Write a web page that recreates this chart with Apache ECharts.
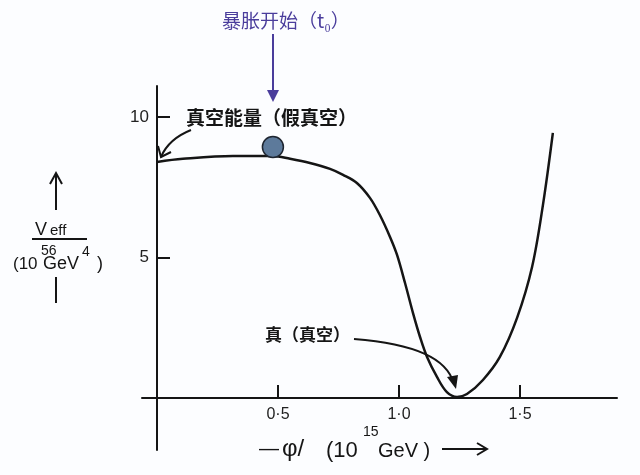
<!DOCTYPE html>
<html>
<head>
<meta charset="utf-8">
<script src="https://cdn.jsdelivr.net/npm/echarts@6/dist/echarts.min.js"></script>
<style>html,body{margin:0;padding:0;background:#fcfdff}#c{width:640px;height:475px}</style>
</head>
<body>
<div id="c"></div>
<script>
// Curve V_eff(phi)
const phi  = [0, 0.107, 0.314, 0.479, 0.550, 0.632, 0.715, 0.769, 0.826, 0.880, 0.921, 0.963, 0.992, 1.025, 1.058, 1.087, 1.116, 1.157, 1.198, 1.240, 1.281, 1.347, 1.417, 1.488, 1.550, 1.595, 1.636];
const veff = [8.40, 8.51, 8.61, 8.61, 8.51, 8.36, 8.15, 7.94, 7.65, 7.12, 6.51, 5.73, 5.09, 4.09, 3.02, 2.17, 1.46, 0.75, 0.21, 0.04, 0.14, 0.64, 1.46, 2.85, 4.66, 6.87, 9.43];
// Ball (start of inflation)
const ballPhi = [0.479];
const ballV = [8.93];
// Tick values
const xTicks = [0.5, 1.0, 1.5];
const yTicks = [5, 10];

const ink = '#151515';
const chart = echarts.init(document.getElementById('c'), null, {renderer: 'canvas'});
const curve = phi.map((p, i) => [p, veff[i]]);
const ball = ballPhi.map((p, i) => [p, ballV[i]]);
const latin = 'Liberation Sans';
const cjk = '"Noto Sans CJK SC"';

function txt(text, x, y, size, opts) {
  opts = opts || {};
  return {type: 'text', x: x, y: y, z: 10, style: {text: text, fontSize: size, fontFamily: opts.family || latin,
    fontWeight: opts.weight || 'normal', fill: opts.color || ink, align: opts.align || 'left', verticalAlign: 'middle'}};
}
function seg(x1, y1, x2, y2, color, w) {
  return {type: 'line', z: 10, shape: {x1, y1, x2, y2}, style: {stroke: color || ink, lineWidth: w || 2}};
}
const X_MIN = -0.062, X_MAX = 1.901, Y_MIN = -1.85, Y_MAX = 11.1;

chart.setOption({
  backgroundColor: '#fcfdff',
  animation: false,
  grid: {left: 142, right: 23, top: 86, bottom: 25},
  xAxis: [{
    type: 'value', min: X_MIN, max: X_MAX,
    axisLine: {onZero: true, lineStyle: {color: ink, width: 2}},
    axisTick: {show: true, inside: true, length: 13, customValues: xTicks, lineStyle: {color: ink, width: 2}},
    axisLabel: {show: false},
    splitLine: {show: false}
  }, {
    type: 'value', min: X_MIN, max: X_MAX, position: 'bottom', offset: -52,
    axisLine: {show: false}, axisTick: {show: false}, splitLine: {show: false},
    axisLabel: {customValues: xTicks, formatter: v => v.toFixed(1).replace('.', '·'), margin: 9,
      fontSize: 16, color: '#222', fontFamily: latin}
  }],
  yAxis: [{
    type: 'value', min: Y_MIN, max: Y_MAX,
    axisLine: {onZero: true, lineStyle: {color: ink, width: 2}},
    axisTick: {show: true, inside: true, length: 13, customValues: yTicks, lineStyle: {color: ink, width: 2}},
    axisLabel: {show: false},
    splitLine: {show: false}
  }, {
    type: 'value', min: Y_MIN, max: Y_MAX, position: 'left', offset: -15,
    axisLine: {show: false}, axisTick: {show: false}, splitLine: {show: false},
    axisLabel: {customValues: yTicks, formatter: v => String(v), margin: 8,
      fontSize: 17, color: '#222', fontFamily: latin}
  }],
  series: [
    {type: 'line', data: curve, smooth: 0.35, symbol: 'none', lineStyle: {color: ink, width: 2.5}, z: 3},
    {type: 'scatter', data: ball, symbolSize: 21, itemStyle: {color: '#5d7a9b', borderColor: '#1e2530', borderWidth: 1.5, opacity: 1}, z: 5}
  ],
  graphic: [
    // top annotation
    txt('暴胀开始（t₀）', 222, 21, 19, {family: cjk, color: '#4a3d9c'}),
    seg(273, 34, 273, 96, '#4a3d9c', 2),
    {type: 'polygon', z: 10, shape: {points: [[267, 90], [279, 90], [273, 102]]}, style: {fill: '#4a3d9c'}},
    // false vacuum label
    txt('真空能量（假真空）', 186, 118, 19, {family: cjk, weight: 'bold'}),
    {type: 'bezierCurve', z: 10, shape: {x1: 191, y1: 130, cpx1: 176, cpy1: 136, cpx2: 166, cpy2: 145, x2: 161, y2: 157}, style: {stroke: ink, lineWidth: 2, fill: null}},
    {type: 'polyline', z: 10, shape: {points: [[158, 146], [161, 157], [171, 152]]}, style: {stroke: ink, lineWidth: 2, fill: null}},
    // true vacuum label
    txt('真（真空）', 265, 335, 17, {family: cjk, weight: 'bold'}),
    {type: 'bezierCurve', z: 10, shape: {x1: 354, y1: 339, cpx1: 415, cpy1: 344, cpx2: 447, cpy2: 358, x2: 454, y2: 384}, style: {stroke: ink, lineWidth: 2, fill: null}},
    {type: 'polygon', z: 10, shape: {points: [[456, 389], [447, 377], [458, 375]]}, style: {fill: ink}},
    // y axis title
    seg(56, 210, 56, 175),
    {type: 'polyline', z: 10, shape: {points: [[50, 184], [56, 173], [62, 184]]}, style: {stroke: ink, lineWidth: 2, fill: null}},
    txt('V', 35, 230, 18),
    txt('eff', 50, 231, 15),
    seg(32, 239, 87, 239),
    txt('(10', 13, 264, 17),
    txt('56', 41, 251, 14),
    txt('GeV', 43, 264, 18),
    txt('4', 82, 252, 14),
    txt(')', 97, 264, 18),
    seg(56, 277, 56, 303),
    // x axis title
    txt('—', 259, 449, 20),
    txt('φ/', 282, 449, 24),
    txt('(10', 326, 451, 22),
    txt('15', 363, 432, 14),
    txt('GeV )', 378, 451, 20),
    seg(442, 449, 487, 449),
    {type: 'polyline', z: 10, shape: {points: [[477, 443], [487, 449], [477, 455]]}, style: {stroke: ink, lineWidth: 2, fill: null}}
  ]
});
</script>
</body>
</html>
